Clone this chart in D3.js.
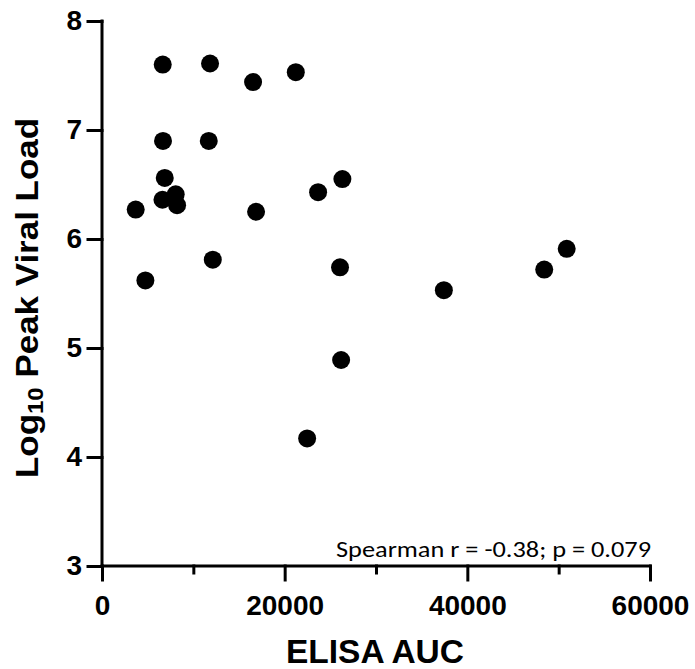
<!DOCTYPE html>
<html>
<head>
<meta charset="utf-8">
<script src="https://cdn.jsdelivr.net/npm/d3@7"></script>
<style>
  body { margin: 0; background: #fff; }
  svg { display: block; }
</style>
</head>
<body>
<script>
// data
var elisaAuc = [6650, 11830, 16540, 21220, 6680, 11690, 6870, 3690, 6620, 8070, 8220,
                16870, 23660, 26320, 4750, 12130, 26060, 37430, 48420, 50880, 26180, 22460];
var peakViralLoad = [7.60, 7.61, 7.44, 7.53, 6.90, 6.90, 6.56, 6.27, 6.36, 6.41, 6.31,
                     6.25, 6.43, 6.55, 5.62, 5.81, 5.74, 5.53, 5.72, 5.91, 4.89, 4.17];
var xMajorTicks = [0, 20000, 40000, 60000];
var xMinorTicks = [10000, 30000, 50000];
var yTicks = [3, 4, 5, 6, 7, 8];
var statsLabel = "Spearman r = -0.38; p = 0.079";

var svgWidth = 695, svgHeight = 669;
var margin = { top: 21, right: 45, bottom: 103, left: 102 };
var chartwidth = svgWidth - margin.left - margin.right;
var chartheight = svgHeight - margin.top - margin.bottom;

var svg = d3.select("body").append("svg")
  .attr("width", svgWidth)
  .attr("height", svgHeight);

var chartGroup = svg.append("g")
  .attr("transform", `translate(${margin.left}, ${margin.top})`);

var xScale = d3.scaleLinear().domain([0, 60000]).range([0, chartwidth]);
var yScale = d3.scaleLinear().domain([3, 8]).range([chartheight, 0]);

// x axis (major + minor ticks)
var xAxis = chartGroup.append("g")
  .attr("transform", `translate(0, ${chartheight})`)
  .call(d3.axisBottom(xScale).tickValues(xMajorTicks).tickSize(14).tickPadding(15).tickFormat(d3.format("d")));
chartGroup.append("g")
  .attr("transform", `translate(0, ${chartheight})`)
  .call(d3.axisBottom(xScale).tickValues(xMinorTicks).tickSize(7).tickFormat(""))
  .select(".domain").remove();

// y axis
var yAxis = chartGroup.append("g")
  .call(d3.axisLeft(yScale).tickValues(yTicks).tickSize(14).tickPadding(6).tickFormat(d3.format("d")));

// plain axis lines, no outer ticks
xAxis.select(".domain").attr("d", `M0,0H${chartwidth}`);
yAxis.select(".domain").attr("d", `M0,0V${chartheight}`);

chartGroup.selectAll(".domain, .tick line")
  .attr("stroke", "#000")
  .attr("stroke-width", 3)
  .attr("stroke-linecap", "square");

chartGroup.selectAll(".tick text")
  .attr("font-family", "'Liberation Sans', Arial, sans-serif")
  .attr("font-weight", "bold")
  .attr("font-size", 28)
  .attr("fill", "#000");

// points
chartGroup.selectAll("circle")
  .data(elisaAuc)
  .enter()
  .append("circle")
  .attr("cx", d => xScale(d))
  .attr("cy", (d, i) => yScale(peakViralLoad[i]))
  .attr("r", 9)
  .attr("fill", "#000");

// stats annotation
chartGroup.append("text")
  .attr("x", chartwidth + 1)
  .attr("y", chartheight - 9)
  .attr("text-anchor", "end")
  .attr("font-family", "Carlito, 'Open Sans', sans-serif")
  .attr("font-size", 22)
  .attr("textLength", 315)
  .attr("lengthAdjust", "spacingAndGlyphs")
  .text(statsLabel);

// x title
svg.append("text")
  .attr("x", 286)
  .attr("y", 663)
  .attr("font-family", "'Liberation Sans', Arial, sans-serif")
  .attr("font-weight", "bold")
  .attr("font-size", 34)
  .attr("textLength", 178)
  .attr("lengthAdjust", "spacingAndGlyphs")
  .text("ELISA AUC");

// y title with subscript
var yTitle = svg.append("text")
  .attr("transform", "translate(38, 478) rotate(-90)")
  .attr("font-family", "'Liberation Sans', Arial, sans-serif")
  .attr("font-weight", "bold")
  .attr("font-size", 32)
  .attr("textLength", 360)
  .attr("lengthAdjust", "spacingAndGlyphs");
yTitle.append("tspan").text("Log");
yTitle.append("tspan").attr("font-size", 22).attr("dy", 5).text("10");
yTitle.append("tspan").attr("dy", -5).text(" Peak Viral Load");
</script>
</body>
</html>
